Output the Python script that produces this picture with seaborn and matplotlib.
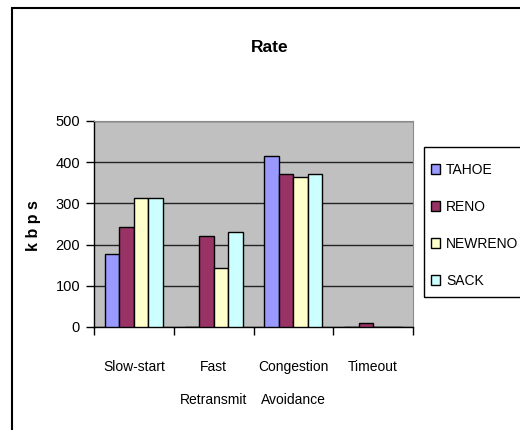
import matplotlib
matplotlib.use("Agg")
import matplotlib.pyplot as plt
from matplotlib.patches import Rectangle
from matplotlib.ticker import FixedLocator
import seaborn as sns
import pandas as pd

phases = ["Slow-start", "Fast\nRetransmit", "Congestion\nAvoidance", "Timeout"]
variants = ["TAHOE", "RENO", "NEWRENO", "SACK"]
tahoe = [178, 0, 415, 0]
reno = [242, 222, 371, 9]
newreno = [312, 142, 363, 0]
sack = [312, 230, 371, 0]
y_ticks = [0, 100, 200, 300, 400, 500]
colors = ["#9999FF", "#993366", "#FFFFCC", "#CCFFFF"]

rows = []
for name, vals in zip(variants, [tahoe, reno, newreno, sack]):
    for ph, v in zip(phases, vals):
        rows.append({"phase": ph, "variant": name, "kbps": v})
df = pd.DataFrame(rows)

sns.set_theme(style="white")
plt.rcParams["font.family"] = ["Liberation Sans", "DejaVu Sans"]
plt.rcParams["text.color"] = "black"
plt.rcParams["xtick.color"] = "black"
plt.rcParams["ytick.color"] = "black"
plt.rcParams["axes.labelcolor"] = "black"

W, H = 520, 430
fig = plt.figure(figsize=(W / 100, H / 100), dpi=100)
ax = fig.add_axes([94 / W, 1 - 327 / H, 319 / W, 206 / H])
ax.set_facecolor("#C0C0C0")

sns.barplot(data=df, x="phase", y="kbps", hue="variant", order=phases,
            hue_order=variants, palette=colors, width=0.725, gap=0,
            edgecolor="black", linewidth=1, saturation=1, ax=ax, zorder=3)

ax.set_ylim(0, 500)
ax.set_xlim(-0.5, 3.5)
ax.set_yticks(y_ticks)
ax.yaxis.grid(True, color="#222222", linewidth=1, zorder=0)
ax.set_axisbelow(True)
for s in ["top", "right"]:
    ax.spines[s].set_color("#8a8a8a")
    ax.spines[s].set_linewidth(0.8)
for s in ["left", "bottom"]:
    ax.spines[s].set_color("black")
    ax.spines[s].set_linewidth(1)

ax.tick_params(axis="y", which="major", direction="out", length=6, width=1,
               color="black", labelsize=10.5, pad=4, left=True)
ax.tick_params(axis="x", which="major", length=0, labelsize=10, pad=24)
ax.xaxis.set_minor_locator(FixedLocator([-0.5, 0.5, 1.5, 2.5, 3.5]))
ax.tick_params(axis="x", which="minor", direction="out", length=6, width=1,
               color="black", bottom=True)
for lbl in ax.get_xticklabels():
    lbl.set_linespacing(2.7)

ax.set_xlabel("")
ax.set_ylabel("k b p s", fontsize=11.5, fontweight="bold")
ax.yaxis.set_label_coords(-(94 - 41.5) / 319, (327 - 226) / 206)

# legend entries without frame, boxed by a separate rectangle
handles, labels = ax.get_legend_handles_labels()
ax.get_legend().remove()
fig.legend(handles, labels, loc="upper left",
           bbox_to_anchor=(431 / W, 1 - 163 / H),
           frameon=False, fontsize=10,
           handlelength=0.65, handleheight=0.65, handletextpad=0.43,
           labelspacing=1.65, borderpad=0, borderaxespad=0)
fig.patches.append(Rectangle((424 / W, 1 - 297 / H), 120 / W, 150 / H,
                             transform=fig.transFigure, fill=False,
                             edgecolor="black", linewidth=1))

fig.text(270 / W, 1 - 47 / H, "Rate", ha="center", va="center",
         fontsize=12.5, fontweight="bold")

# chart area border
fig.patches.append(Rectangle((12 / W, -0.1), 1.2, 1 - 8 / H + 0.1,
                             transform=fig.transFigure, fill=False,
                             edgecolor="black", linewidth=1.5))

fig.savefig("out.png", dpi=100)
